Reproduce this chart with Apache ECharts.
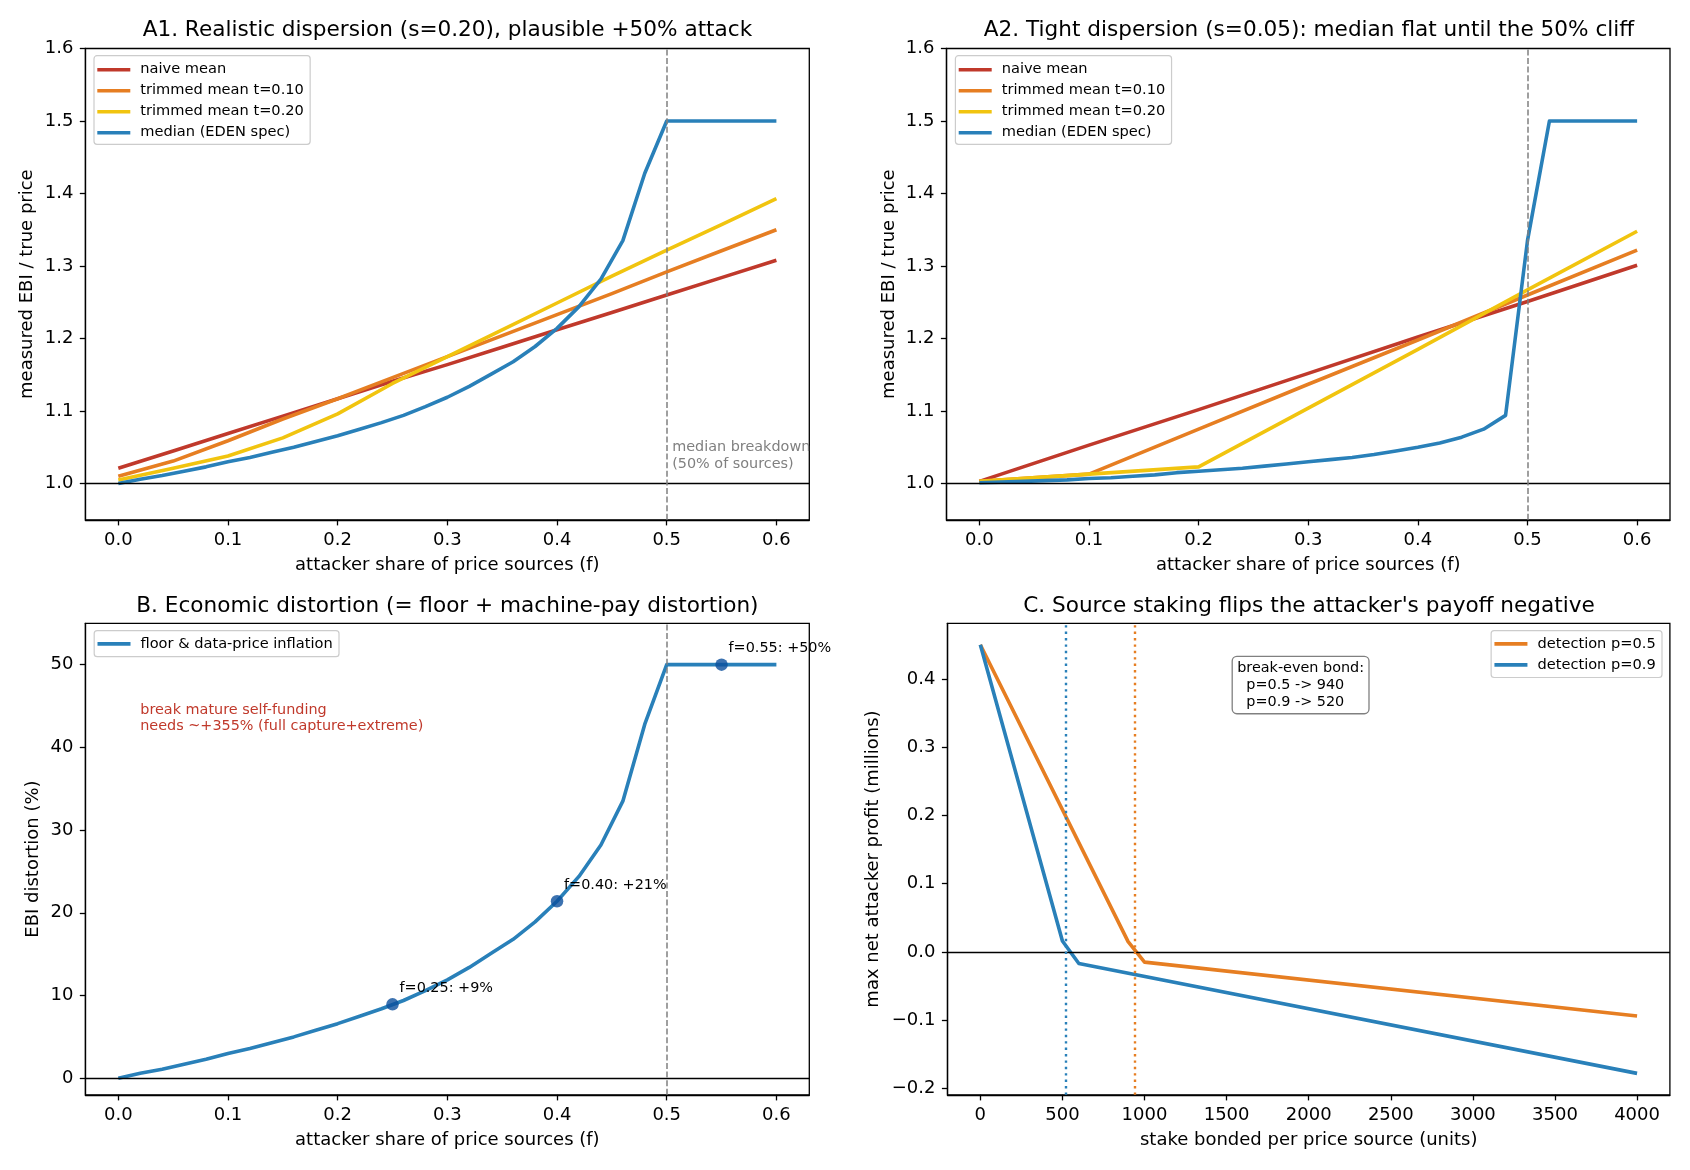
<!DOCTYPE html>
<html>
<head>
<meta charset="utf-8">
<script src="https://cdn.jsdelivr.net/npm/echarts@6.0.0/dist/echarts.min.js"></script>
<style>
  html, body { margin: 0; padding: 0; background: #fff; }
  #chart { width: 1690px; height: 1170px; }
</style>
</head>
<body>
<div id="chart"></div>
<script>
const FONT = 'DejaVu Sans';
const RED = '#c0392b', ORANGE = '#e67e22', YELLOW = '#f1c40f', BLUE = '#2980b9', DOT = '#0b4f9c';

// attacker share of price sources (f)
const fFine = [0, 0.02, 0.04, 0.06, 0.08, 0.1, 0.12, 0.14, 0.16, 0.18, 0.2, 0.22, 0.24, 0.26, 0.28, 0.3,
  0.32, 0.34, 0.36, 0.38, 0.4, 0.42, 0.44, 0.46, 0.48, 0.5, 0.52, 0.54, 0.56, 0.58, 0.6];
const fCoarse = [0, 0.05, 0.1, 0.15, 0.2, 0.25, 0.3, 0.35, 0.4, 0.45, 0.5, 0.55, 0.6];
const fTenth = [0, 0.1, 0.2, 0.3, 0.4, 0.5, 0.6];

// A1: realistic dispersion s=0.20
const a1Naive = [1.021, 1.045, 1.069, 1.093, 1.117, 1.141, 1.164, 1.188, 1.212, 1.236, 1.260, 1.284, 1.308];
const a1Trim10 = [1.010, 1.031, 1.059, 1.089, 1.117, 1.146, 1.175, 1.204, 1.233, 1.262, 1.292, 1.321, 1.350];
const a1Trim20 = [1.005, 1.021, 1.038, 1.063, 1.096, 1.138, 1.175, 1.212, 1.249, 1.286, 1.322, 1.357, 1.393];
const a1Median = [1.000, 1.006, 1.011, 1.017, 1.023, 1.030, 1.036, 1.043, 1.050, 1.058, 1.066, 1.075, 1.084,
  1.094, 1.106, 1.119, 1.134, 1.151, 1.168, 1.189, 1.214, 1.244, 1.282, 1.335, 1.428, 1.500, 1.500, 1.500,
  1.500, 1.500, 1.500];

// A2: tight dispersion s=0.05
const a2Naive = [1.003, 1.053, 1.102, 1.152, 1.202, 1.251, 1.301];
const a2Trim10 = [1.003, 1.013, 1.075, 1.137, 1.198, 1.260, 1.322];
const a2Trim20 = [1.003, 1.013, 1.023, 1.104, 1.185, 1.267, 1.348];
const a2Median = [1.001, 1.002, 1.003, 1.004, 1.005, 1.007, 1.008, 1.010, 1.012, 1.015, 1.017, 1.019, 1.021,
  1.024, 1.027, 1.030, 1.033, 1.036, 1.040, 1.045, 1.050, 1.056, 1.064, 1.075, 1.094, 1.335, 1.500, 1.500,
  1.500, 1.500, 1.500];

// B: EBI distortion (%)
const bDistortion = [0, 0.6, 1.1, 1.7, 2.3, 3.0, 3.6, 4.3, 5.0, 5.8, 6.6, 7.5, 8.4, 9.4, 10.6, 11.9, 13.4,
  15.1, 16.8, 18.9, 21.4, 24.4, 28.2, 33.5, 42.8, 50, 50, 50, 50, 50, 50];
const bMarkF = [0.25, 0.40, 0.55];
const bMarkVal = [8.94, 21.4, 50];
const bMarkText = ['f=0.25: +9%', 'f=0.40: +21%', 'f=0.55: +50%'];

// C: stake bonded per price source vs max net attacker profit (millions)
const stakeP5 = [0, 900, 1000, 4000];
const profitP5 = [0.450, 0.015, -0.015, -0.094];
const stakeP9 = [0, 500, 600, 4000];
const profitP9 = [0.450, 0.016, -0.017, -0.178];
const breakEven = { p5: 940, p9: 520 };

// ticks
const fTicks = [0, 0.1, 0.2, 0.3, 0.4, 0.5, 0.6];
const ratioTicks = [1.0, 1.1, 1.2, 1.3, 1.4, 1.5, 1.6];
const distTicks = [0, 10, 20, 30, 40, 50];
const stakeTicks = [0, 500, 1000, 1500, 2000, 2500, 3000, 3500, 4000];
const profitTicks = [-0.2, -0.1, 0.0, 0.1, 0.2, 0.3, 0.4];

const zip = (xs, ys) => xs.map((x, i) => [x, ys[i]]);
const minus = v => (v < 0 ? '\u2212' + Math.abs(v).toFixed(1) : v.toFixed(1));

const grids = [
  { left: 85.4, top: 48.5, width: 723.9, height: 471.3 },
  { left: 946.5, top: 48.5, width: 723.5, height: 471.3 },
  { left: 85.4, top: 623.3, width: 723.9, height: 471.5 },
  { left: 947.5, top: 623.3, width: 722.4, height: 471.5 }
].map(g => Object.assign(g, { show: true, borderColor: '#000', borderWidth: 1.3, backgroundColor: 'transparent', outerBoundsMode: 'none' }));

function axis(gridIndex, min, max, ticks, fmt, name, nameGap) {
  return {
    type: 'value', gridIndex, min, max, name, nameGap,
    nameLocation: 'middle', nameMoveOverlap: false,
    nameTextStyle: { fontSize: 18, color: '#000', fontFamily: FONT },
    axisLine: { show: true, onZero: false, lineStyle: { color: '#000', width: 1.3 } },
    axisTick: { show: true, length: 5.6, customValues: ticks, lineStyle: { color: '#000', width: 1.3 } },
    axisLabel: { customValues: ticks, formatter: fmt, margin: 12, fontSize: 18, color: '#000', fontFamily: FONT },
    splitLine: { show: false }
  };
}

const fFmt = v => v.toFixed(1);
const xAxes = [
  axis(0, -0.03, 0.63, fTicks, fFmt, 'attacker share of price sources (f)', 37),
  axis(1, -0.03, 0.63, fTicks, fFmt, 'attacker share of price sources (f)', 37),
  axis(2, -0.03, 0.63, fTicks, fFmt, 'attacker share of price sources (f)', 37),
  axis(3, -200, 4200, stakeTicks, v => String(v), 'stake bonded per price source (units)', 37)
];
const yAxes = [
  axis(0, 0.95, 1.6, ratioTicks, fFmt, 'measured EBI / true price', 49.5),
  axis(1, 0.95, 1.6, ratioTicks, fFmt, 'measured EBI / true price', 48.4),
  axis(2, -2, 55, distTicks, v => String(v), 'EBI distortion (%)', 43),
  axis(3, -0.2094, 0.4814, profitTicks, minus, 'max net attacker profit (millions)', 65)
];

function curve(name, idx, data, color, z) {
  return {
    name, type: 'line', xAxisIndex: idx, yAxisIndex: idx, data, showSymbol: false, symbol: 'none',
    lineStyle: { color, width: 3.6, cap: 'butt', join: 'round' }, itemStyle: { color }, z: z || 3, silent: true
  };
}

// reference lines: axhline / axvline
function refLines(idx, items) {
  return {
    type: 'line', xAxisIndex: idx, yAxisIndex: idx, data: [], silent: true, z: 2,
    markLine: { symbol: 'none', silent: true, label: { show: false }, animation: false, data: items }
  };
}
const hLine = v => ({ yAxis: v, lineStyle: { color: '#000', width: 1.3, type: 'solid' } });
const vDash = v => ({ xAxis: v, lineStyle: { color: '#808080', width: 1.5, type: [6, 2.6] } });
const vDot = (v, c) => ({ xAxis: v, lineStyle: { color: c, width: 2.4, type: [2.4, 4] } });

const series = [
  refLines(0, [hLine(1.0), vDash(0.5)]),
  curve('naive mean', 0, zip(fCoarse, a1Naive), RED),
  curve('trimmed mean t=0.10', 0, zip(fCoarse, a1Trim10), ORANGE),
  curve('trimmed mean t=0.20', 0, zip(fCoarse, a1Trim20), YELLOW),
  curve('median (EDEN spec)', 0, zip(fFine, a1Median), BLUE),

  refLines(1, [hLine(1.0), vDash(0.5)]),
  curve('naive mean', 1, zip(fTenth, a2Naive), RED),
  curve('trimmed mean t=0.10', 1, zip(fTenth, a2Trim10), ORANGE),
  curve('trimmed mean t=0.20', 1, zip(fTenth, a2Trim20), YELLOW),
  curve('median (EDEN spec)', 1, zip(fFine, a2Median), BLUE),

  refLines(2, [hLine(0), vDash(0.5)]),
  curve('floor & data-price inflation', 2, zip(fFine, bDistortion), BLUE),
  {
    type: 'scatter', xAxisIndex: 2, yAxisIndex: 2, data: zip(bMarkF, bMarkVal), symbolSize: 12.5,
    itemStyle: { color: DOT }, z: 5, silent: true
  },

  refLines(3, [hLine(0), vDot(breakEven.p5, ORANGE), vDot(breakEven.p9, BLUE)]),
  curve('detection p=0.5', 3, zip(stakeP5, profitP5), ORANGE),
  curve('detection p=0.9', 3, zip(stakeP9, profitP9), BLUE)
];

function legend(names, pos, padding) {
  return Object.assign({
    data: names, orient: 'vertical', icon: 'rect', itemWidth: 33, itemHeight: 3.6, itemGap: 5,
    padding, backgroundColor: 'rgba(255,255,255,0.8)', borderColor: '#cccccc', borderWidth: 1.2, borderRadius: 3,
    selectedMode: false,
    textStyle: { fontSize: 14.6, lineHeight: 16, color: '#000', fontFamily: FONT, padding: [0, 0, 0, 5] }
  }, pos);
}
const aNames = ['naive mean', 'trimmed mean t=0.10', 'trimmed mean t=0.20', 'median (EDEN spec)'];

function title(text, x, y) {
  return {
    text, left: x, top: y, textAlign: 'center', textVerticalAlign: 'middle', padding: 0,
    textStyle: { fontSize: 21.6, fontWeight: 'normal', color: '#000', fontFamily: FONT }
  };
}

const option = {
  animation: false,
  backgroundColor: '#fff',
  textStyle: { fontFamily: FONT },
  title: [
    title('A1. Realistic dispersion (s=0.20), plausible +50% attack', 447.4, 30.6),
    title('A2. Tight dispersion (s=0.05): median flat until the 50% cliff', 1309, 30.6),
    title('B. Economic distortion (= floor + machine-pay distortion)', 447.4, 606.7),
    title("C. Source staking flips the attacker's payoff negative", 1309, 606.7)
  ],
  legend: [
    legend(aNames, { left: 94, top: 55.7 }, [6, 6.3, 3.6, 3.3]),
    legend(aNames, { left: 955.4, top: 55.7 }, [6, 6.3, 3.6, 3.3]),
    legend(['floor & data-price inflation'], { left: 94.2, top: 630.6 }, [5.3, 6.3, 4.8, 3.3]),
    legend(['detection p=0.5', 'detection p=0.9'], { right: 28, top: 630.6 }, [5.3, 6.3, 4.6, 3.3])
  ],
  grid: grids,
  xAxis: xAxes,
  yAxis: yAxes,
  series
};

const chart = echarts.init(document.getElementById('chart'), null, { renderer: 'canvas' });
chart.setOption(option);

// annotations placed through the axes' own scales
const px = (idx, x, y) => chart.convertToPixel({ xAxisIndex: idx, yAxisIndex: idx }, [x, y]);
const txt = (pos, text, fill, align, vAlign, extra) => ({
  type: 'text', x: pos[0], y: pos[1], silent: true, z: 10,
  style: Object.assign({ text, fill, fontSize: 14.4, fontFamily: FONT, align, verticalAlign: vAlign, lineHeight: 16.7 }, extra || {})
});

const graphic = [
  txt(px(0, 0.505, 1.015), 'median breakdown\n(50% of sources)', '#808080', 'left', 'bottom'),
  txt(px(2, 0.02, 41.6), 'break mature self-funding\nneeds ~+355% (full capture+extreme)', RED, 'left', 'bottom', { lineHeight: 16 })
];
bMarkF.forEach((f, i) => {
  const p = px(2, f, bMarkVal[i]);
  graphic.push(txt([p[0] + 7, p[1] - 16], bMarkText[i], '#000', 'left', 'middle'));
});
graphic.push(txt(px(3, 1538, 0.432), 'break-even bond:\n  p=0.5 -> ' + breakEven.p5 + '\n  p=0.9 -> ' + breakEven.p9,
  '#000', 'left', 'top', {
    backgroundColor: '#fff', borderColor: '#808080', borderWidth: 1.3, borderRadius: 4, padding: [3, 4.3, 3, 4.3]
  }));
chart.setOption({ graphic });
</script>
</body>
</html>
